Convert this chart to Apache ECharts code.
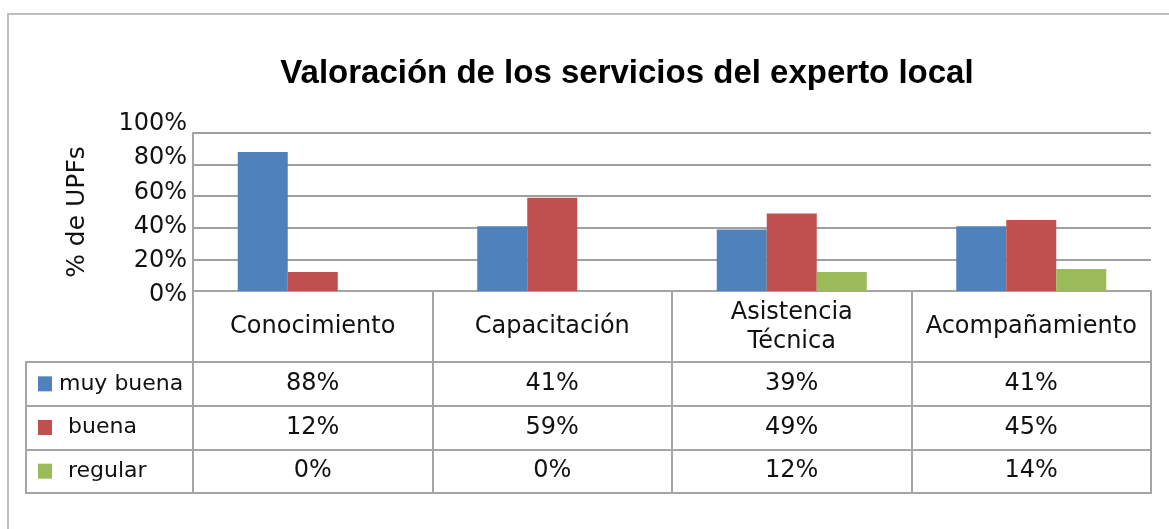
<!DOCTYPE html>
<html>
<head>
<meta charset="utf-8">
<script src="https://cdn.jsdelivr.net/npm/echarts@6/dist/echarts.min.js"></script>
<style>
html, body { margin: 0; padding: 0; background: #fff; }
#container { width: 1169px; height: 529px; }
</style>
</head>
<body>
<div id="container"></div>
<script>
var categories = ['Conocimiento', 'Capacitación', 'Asistencia\nTécnica', 'Acompañamiento'];
var rowNames = ['muy buena', 'buena', 'regular'];
var muyBuena = [88, 41, 39, 41];
var buena = [12, 59, 49, 45];
var regular = [0, 0, 12, 14];
var yTicks = [0, 20, 40, 60, 80, 100];

var colors = ['#4F81BD', '#C0504D', '#9BBB59'];
var lineGray = '#A5A5A5';
var font = 'DejaVu Sans';

var dom = document.getElementById('container');
var myChart = echarts.init(dom);

// cells of the data table: [column, row, value]
var cells = [];
[muyBuena, buena, regular].forEach(function (arr, r) {
    for (var c = 0; c < arr.length; c++) {
        cells.push([c, r, arr[c]]);
    }
});

var option = {
    animation: false,
    backgroundColor: '#fff',
    title: {
        text: 'Valoración de los servicios del experto local',
        left: 627,
        top: 57,
        padding: 0,
        textAlign: 'center',
        textStyle: {
            fontFamily: 'Liberation Sans',
            fontWeight: 'bold',
            fontSize: 33,
            color: '#000'
        }
    },
    graphic: [{
        type: 'rect',
        z: -1,
        shape: { x: 8, y: 14, width: 1300, height: 700 },
        style: { fill: 'none', stroke: '#BFBFBF', lineWidth: 2 }
    }],
    grid: [
        // bars
        { left: 193, top: 133, width: 958, height: 158, outerBoundsMode: 'none' },
        // y labels
        { left: 193, top: 124, width: 958, height: 171, outerBoundsMode: 'none' },
        // table values
        { left: 193, top: 362, width: 958, height: 131, outerBoundsMode: 'none',
          show: true, borderColor: lineGray, borderWidth: 2 },
        // table legend column
        { left: 26, top: 362, width: 167, height: 131, outerBoundsMode: 'none',
          show: true, borderColor: lineGray, borderWidth: 2 }
    ],
    xAxis: [
        {
            gridIndex: 0,
            type: 'category',
            data: categories,
            axisLine: { show: true, lineStyle: { color: lineGray, width: 2 } },
            axisTick: { show: true, length: 71, interval: 0, lineStyle: { color: lineGray, width: 2 } },
            axisLabel: {
                interval: 0,
                margin: 36,
                verticalAlign: 'middle',
                lineHeight: 29,
                fontFamily: font,
                fontSize: 24,
                color: '#111'
            },
            splitLine: { show: false }
        },
        { gridIndex: 1, type: 'value', show: false },
        {
            gridIndex: 2,
            type: 'category',
            data: categories,
            axisLine: { show: false },
            axisTick: { show: false },
            axisLabel: { show: false },
            splitLine: { show: true, interval: 0, lineStyle: { color: lineGray, width: 2 } }
        },
        { gridIndex: 3, type: 'value', show: false }
    ],
    yAxis: [
        {
            gridIndex: 0,
            type: 'value',
            min: 0,
            max: 100,
            interval: 20,
            name: '% de UPFs',
            nameLocation: 'middle',
            nameRotate: 90,
            nameGap: 103,
            nameTextStyle: { fontFamily: font, fontSize: 25, color: '#111' },
            axisLine: { show: true, lineStyle: { color: lineGray, width: 2 } },
            axisTick: { show: false },
            axisLabel: { show: false },
            splitLine: { show: true, lineStyle: { color: '#A0A0A0', width: 2 } }
        },
        {
            gridIndex: 1,
            type: 'value',
            min: yTicks[0],
            max: yTicks[yTicks.length - 1],
            interval: 20,
            axisLine: { show: false },
            axisTick: { show: false },
            splitLine: { show: false },
            axisLabel: {
                margin: 6,
                formatter: '{value}%',
                fontFamily: font,
                fontSize: 24,
                color: '#111'
            }
        },
        {
            gridIndex: 2,
            type: 'category',
            data: rowNames,
            inverse: true,
            axisLine: { show: false },
            axisTick: { show: false },
            axisLabel: { show: false },
            splitLine: { show: true, interval: 0, lineStyle: { color: lineGray, width: 2 } }
        },
        {
            gridIndex: 3,
            type: 'category',
            data: rowNames,
            inverse: true,
            axisLine: { show: false },
            axisTick: { show: false },
            splitLine: { show: true, interval: 0, lineStyle: { color: lineGray, width: 2 } },
            axisLabel: {
                inside: true,
                margin: 12,
                interval: 0,
                formatter: function (v, i) {
                    return '{k' + i + '|}{' + (i === 0 ? 't0' : 't') + '|' + v + '}';
                },
                rich: {
                    k0: { backgroundColor: colors[0], width: 14, height: 15 },
                    k1: { backgroundColor: colors[1], width: 14, height: 15 },
                    k2: { backgroundColor: colors[2], width: 14, height: 15 },
                    t0: { fontFamily: font, fontSize: 22, color: '#111', padding: [0, 0, 0, 7] },
                    t: { fontFamily: font, fontSize: 22, color: '#111', padding: [0, 0, 0, 16] }
                }
            }
        }
    ],
    series: [
        {
            name: 'muy buena', type: 'bar', xAxisIndex: 0, yAxisIndex: 0,
            data: muyBuena, barWidth: 50, barGap: '0%',
            itemStyle: { color: colors[0] }
        },
        {
            name: 'buena', type: 'bar', xAxisIndex: 0, yAxisIndex: 0,
            data: buena, barWidth: 50, barGap: '0%',
            itemStyle: { color: colors[1] }
        },
        {
            name: 'regular', type: 'bar', xAxisIndex: 0, yAxisIndex: 0,
            data: regular, barWidth: 50, barGap: '0%',
            itemStyle: { color: colors[2] }
        },
        {
            type: 'scatter', xAxisIndex: 2, yAxisIndex: 2,
            data: cells,
            symbolSize: 1,
            silent: true,
            itemStyle: { color: 'rgba(0,0,0,0)', opacity: 1 },
            label: {
                show: true,
                position: 'inside',
                formatter: function (p) { return p.value[2] + '%'; },
                fontFamily: font,
                fontSize: 24,
                color: '#111'
            }
        }
    ]
};

if (option && typeof option === 'object') {
    myChart.setOption(option);
}
</script>
</body>
</html>
